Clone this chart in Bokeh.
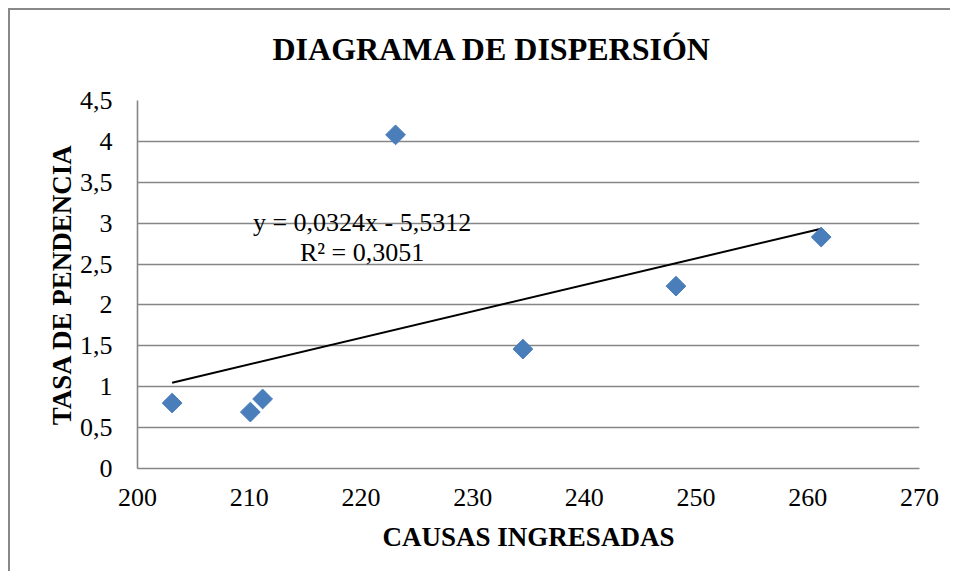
import numpy as np
from bokeh.plotting import figure
from bokeh.models import (Range1d, FixedTicker, CustomJSTickFormatter, Label,
                          ColumnDataSource)
from bokeh.embed import file_html
from bokeh.resources import INLINE

# ---- data ----
causas = [203.1, 210.1, 211.2, 223.1, 234.5, 248.2, 261.2]
tasa = [0.80, 0.69, 0.85, 4.08, 1.46, 2.23, 2.83]
slope = 0.0324
intercept = -5.5312
r2 = 0.3051
x_ticks = [200, 210, 220, 230, 240, 250, 260, 270]
y_ticks = [0, 0.5, 1, 1.5, 2, 2.5, 3, 3.5, 4, 4.5]

title_text = "DIAGRAMA DE DISPERSIÓN"
x_label = "CAUSAS INGRESADAS"
y_label = "TASA DE PENDENCIA"

FONT = "Liberation Serif"
GRAY = "#868686"

p = figure(frame_width=782, frame_height=368, output_backend="svg", toolbar_location=None,
           x_range=Range1d(200, 270), y_range=Range1d(0, 4.5),
           min_border_left=137, min_border_right=31,
           min_border_top=100, min_border_bottom=103)
# outer chart border (left and top edges) drawn behind a transparent border area
p.border_fill_alpha = 0
p.styles = {
    "margin-top": "-6px",
    "background": ("linear-gradient(#888888, #888888) 8px 14px / 2px 100% no-repeat, "
                   "linear-gradient(#888888, #888888) 8px 14px / 100% 2px no-repeat, "
                   "white"),
}

p.title.text = title_text
p.title.text_font = FONT
p.title.text_font_size = "32px"
p.title.text_font_style = "bold"
p.title.text_color = "black"
p.title.align = "left"
p.title.offset = 135
p.title.standoff = 68

p.outline_line_color = None
p.background_fill_color = "white"

# grid
p.xgrid.grid_line_color = None
p.ygrid.grid_line_color = GRAY
p.ygrid.grid_line_width = 1.6
p.ygrid.ticker = FixedTicker(ticks=y_ticks)

fmt = CustomJSTickFormatter(code="return tick.toString().replace('.', ',');")

for ax in (p.xaxis[0], p.yaxis[0]):
    ax.axis_line_color = GRAY
    ax.axis_line_width = 1.6
    ax.major_tick_line_color = None
    ax.minor_tick_line_color = None
    ax.major_label_text_font = FONT
    ax.major_label_text_font_size = "26px"
    ax.major_label_text_color = "black"
    ax.axis_label_text_font = FONT
    ax.axis_label_text_font_size = "27px"
    ax.axis_label_text_font_style = "bold"
    ax.axis_label_text_color = "black"
    ax.formatter = fmt

p.xaxis[0].ticker = FixedTicker(ticks=x_ticks)
p.yaxis[0].ticker = FixedTicker(ticks=y_ticks)
p.xaxis[0].axis_label = x_label
p.yaxis[0].axis_label = y_label
p.xaxis[0].major_label_standoff = 14
p.xaxis[0].axis_label_standoff = 13
p.yaxis[0].major_label_standoff = 19
p.yaxis[0].axis_label_standoff = 0

# trendline
xs = np.array([min(causas), max(causas)])
ys = slope * xs + intercept
p.line(xs, ys, line_color="black", line_width=2)

# points
src = ColumnDataSource(dict(x=causas, y=tasa))
p.scatter("x", "y", source=src, marker="square", angle=np.pi / 4, size=14,
          fill_color="#4A7EBB", line_color="#4A7EBB")

eq1 = "y = " + f"{slope:.4f}".replace(".", ",") + "x - " + f"{-intercept:.4f}".replace(".", ",")
eq2 = "R² = " + f"{r2:.4f}".replace(".", ",")
for txt, yy in ((eq1, 3.01), (eq2, 2.64)):
    p.add_layout(Label(x=220.1, y=yy, text=txt, text_font=FONT, text_font_size="26px",
                       text_align="center", text_baseline="middle", text_color="black"))

open("out.html", "w").write(file_html(p, INLINE))
